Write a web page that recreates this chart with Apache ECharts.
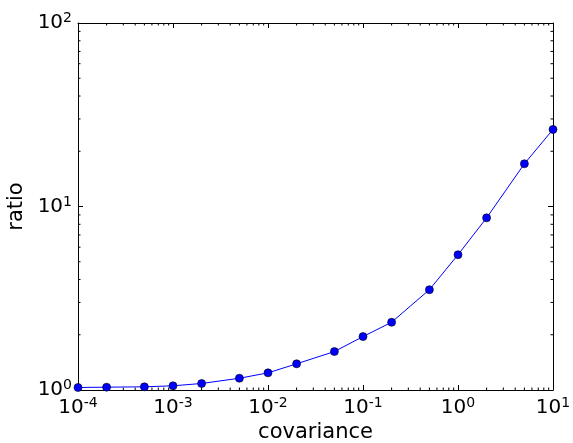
<!DOCTYPE html>
<html>
<head>
<meta charset="utf-8">
<script src="https://cdn.jsdelivr.net/npm/echarts@6/dist/echarts.min.js"></script>
<style>
  html, body { margin: 0; padding: 0; background: #fff; }
  #chart { width: 573px; height: 443px; }
</style>
</head>
<body>
<div id="chart"></div>
<script>
// data
var covariance = [1e-4, 2e-4, 5e-4, 1e-3, 2e-3, 5e-3, 1e-2, 2e-2, 5e-2, 0.1, 0.2, 0.5, 1, 2, 5, 10];
var ratio = [1.032, 1.036, 1.041, 1.054, 1.085, 1.159, 1.24, 1.389, 1.62, 1.955, 2.34, 3.52, 5.46, 8.67, 17.1, 26.3];

var xRange = [1e-4, 10];
var yRange = [1, 100];

// minor ticks at 2..9 in every decade
function minorTicks(lo, hi) {
    var out = [];
    for (var k = Math.round(Math.log10(lo)); k < Math.round(Math.log10(hi)); k++) {
        for (var m = 2; m <= 9; m++) out.push(m * Math.pow(10, k));
    }
    return out;
}
var xMinor = minorTicks(xRange[0], xRange[1]);
var yMinor = minorTicks(yRange[0], yRange[1]);

var FONT = 'DejaVu Sans';

function powLabel(v) {
    var e = Math.round(Math.log10(v));
    return '{b|10}{s|' + e + '}';
}
var richPow = {
    b: { fontFamily: FONT, fontSize: 20, color: '#000' },
    s: { fontFamily: FONT, fontSize: 14, color: '#000', padding: [0, 0, 9, 0] }
};

function logAxis(range, pos, labels) {
    return {
        type: 'log',
        logBase: 10,
        min: range[0],
        max: range[1],
        position: pos,
        axisLine: { show: true, onZero: false, lineStyle: { color: '#000', width: 1 } },
        axisTick: { show: true, inside: true, length: 5, lineStyle: { color: '#000', width: 1 } },
        axisLabel: labels ? {
            show: true,
            formatter: powLabel,
            rich: richPow,
            margin: 6
        } : { show: false },
        splitLine: { show: false }
    };
}

var xBottom = logAxis(xRange, 'bottom', true);
xBottom.name = 'covariance';
xBottom.nameLocation = 'middle';
xBottom.nameGap = 29;
xBottom.nameTextStyle = { fontFamily: FONT, fontSize: 21, color: '#000' };

var yLeft = logAxis(yRange, 'left', true);
yLeft.name = 'ratio';
yLeft.nameLocation = 'middle';
yLeft.nameGap = 50;
yLeft.nameTextStyle = { fontFamily: FONT, fontSize: 21, color: '#000' };

var chart = echarts.init(document.getElementById('chart'), null, { renderer: 'canvas' });

chart.setOption({
    animation: false,
    backgroundColor: '#fff',
    grid: { left: 78, right: 20, top: 23, bottom: 53, containLabel: false, outerBoundsMode: 'none' },
    xAxis: [xBottom, logAxis(xRange, 'top', false)],
    yAxis: [yLeft, logAxis(yRange, 'right', false)],
    series: [
        {
            // minor ticks on x (bottom and top)
            type: 'custom',
            xAxisIndex: 0,
            yAxisIndex: 0,
            silent: true,
            clip: false,
            data: xMinor.map(function (v) { return [v, yRange[0]]; }),
            renderItem: function (params, api) {
                var v = api.value(0);
                var pb = api.coord([v, yRange[0]]);
                var pt = api.coord([v, yRange[1]]);
                var st = { stroke: '#000', lineWidth: 1 };
                return {
                    type: 'group',
                    children: [
                        { type: 'line', shape: { x1: pb[0], y1: pb[1], x2: pb[0], y2: pb[1] - 2.5 }, style: st },
                        { type: 'line', shape: { x1: pt[0], y1: pt[1], x2: pt[0], y2: pt[1] + 2.5 }, style: st }
                    ]
                };
            }
        },
        {
            // minor ticks on y (left and right)
            type: 'custom',
            xAxisIndex: 0,
            yAxisIndex: 0,
            silent: true,
            clip: false,
            data: yMinor.map(function (v) { return [xRange[0], v]; }),
            renderItem: function (params, api) {
                var v = api.value(1);
                var pl = api.coord([xRange[0], v]);
                var pr = api.coord([xRange[1], v]);
                var st = { stroke: '#000', lineWidth: 1 };
                return {
                    type: 'group',
                    children: [
                        { type: 'line', shape: { x1: pl[0], y1: pl[1], x2: pl[0] + 2.5, y2: pl[1] }, style: st },
                        { type: 'line', shape: { x1: pr[0], y1: pr[1], x2: pr[0] - 2.5, y2: pr[1] }, style: st }
                    ]
                };
            }
        },
        {
            type: 'line',
            xAxisIndex: 0,
            yAxisIndex: 0,
            data: covariance.map(function (c, i) { return [c, ratio[i]]; }),
            symbol: 'circle',
            symbolSize: 8,
            clip: false,
            z: 5,
            lineStyle: { color: '#0000ff', width: 1 },
            itemStyle: { color: '#0000ff', borderColor: '#000', borderWidth: 0.6 }
        }
    ]
});
</script>
</body>
</html>
